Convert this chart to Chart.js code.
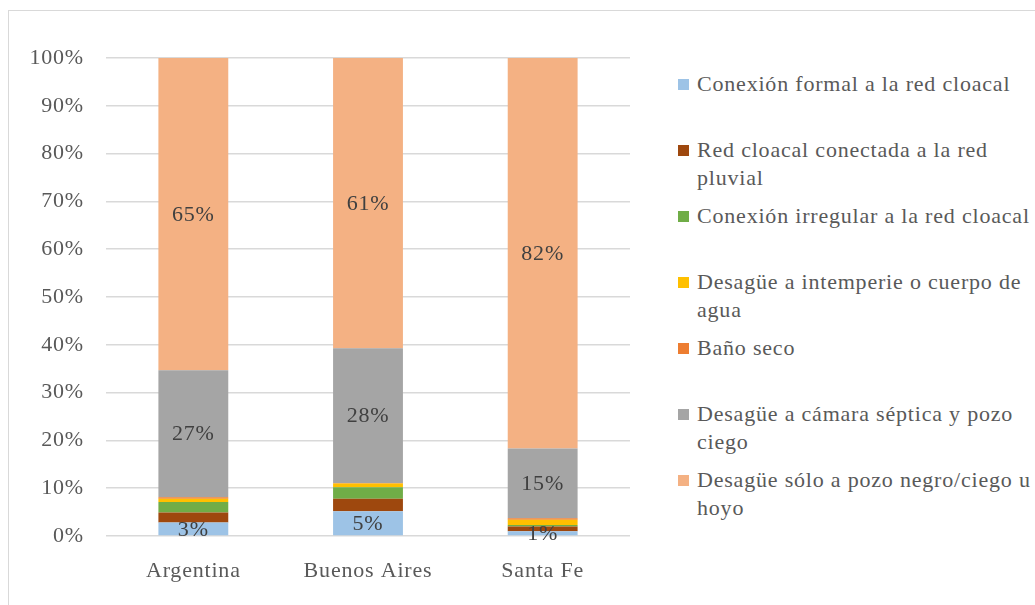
<!DOCTYPE html>
<html>
<head>
<meta charset="utf-8">
<script src="https://cdn.jsdelivr.net/npm/chart.js@4.4.0/dist/chart.umd.min.js"></script>
<style>
    body { margin: 0; background: #fff; width: 1035px; height: 605px; overflow: hidden; position: relative; }
    #frame { position: absolute; left: 8px; top: 10px; width: 1040px; height: 600px; border: 1px solid #d9d9d9; box-sizing: border-box; }
    #wrap { position: absolute; left: 0; top: 0; width: 650px; height: 605px; }
    #legend { position: absolute; left: 678px; top: 0; font-family: "Liberation Serif", "Times New Roman", serif; font-size: 22px; letter-spacing: 0.8px; color: #595959; }
    .item { position: absolute; left: 0; white-space: nowrap; line-height: 28px; }
    .box { position: absolute; left: 0; top: 9px; width: 11px; height: 11px; }
    .txt { position: absolute; left: 19px; top: 0; }
</style>
</head>
<body>
<div id="frame"></div>
<div id="wrap"><canvas id="chart" width="650" height="605"></canvas></div>
<div id="legend"></div>
<script>
// Categorías y series (porcentajes)
const categories = ['Argentina', 'Buenos Aires', 'Santa Fe'];
const seriesNames = [
    ['Conexión formal a la red cloacal'],
    ['Red cloacal conectada a la red', 'pluvial'],
    ['Conexión irregular a la red cloacal'],
    ['Desagüe a intemperie o cuerpo de', 'agua'],
    ['Baño seco'],
    ['Desagüe a cámara séptica y pozo', 'ciego'],
    ['Desagüe sólo a pozo negro/ciego u', 'hoyo']
];
const formal = [2.8, 5.2, 1.0];
const pluvial = [2.1, 2.6, 1.0];
const irregular = [2.2, 2.4, 0.3];
const intemperie = [0.7, 0.8, 1.1];
const banoSeco = [0.3, 0.1, 0.3];
const septica = [26.6, 28.2, 14.6];
const pozoNegro = [65.3, 60.7, 81.7];
const yTicks = [0, 10, 20, 30, 40, 50, 60, 70, 80, 90, 100];

const seriesValues = [formal, pluvial, irregular, intemperie, banoSeco, septica, pozoNegro];
const colors = ['#9dc3e6', '#9e480e', '#70ad47', '#ffc000', '#ed7d31', '#a5a5a5', '#f4b183'];
const showLabel = [true, false, false, false, false, true, true];

const datasets = seriesValues.map((vals, i) => ({
    label: seriesNames[i].join(' '),
    data: vals,
    backgroundColor: colors[i],
    borderWidth: 0,
    barPercentage: 0.4,
    categoryPercentage: 1
}));

// Espaciado de letras como en el original
const spacing = {
    id: 'spacing',
    beforeDraw(chart) { chart.ctx.letterSpacing = '0.8px'; }
};

// Etiquetas de porcentaje dentro de las barras
const barLabels = {
    id: 'barLabels',
    afterDatasetsDraw(chart) {
        const ctx = chart.ctx;
        ctx.save();
        ctx.letterSpacing = '0.8px';
        ctx.font = '22px "Liberation Serif", serif';
        ctx.fillStyle = '#404040';
        ctx.textAlign = 'center';
        ctx.textBaseline = 'middle';
        chart.data.datasets.forEach((ds, i) => {
            if (!showLabel[i]) return;
            chart.getDatasetMeta(i).data.forEach((bar, j) => {
                const mid = (bar.y + bar.base) / 2;
                ctx.fillText(Math.round(ds.data[j]) + '%', bar.x, mid + 1);
            });
        });
        ctx.restore();
    }
};

const tickFont = { family: '"Liberation Serif", serif', size: 22 };

new Chart(document.getElementById('chart'), {
    type: 'bar',
    data: { labels: categories, datasets: datasets },
    options: {
        responsive: false,
        animation: false,
        layout: { padding: { left: 20, right: 20, top: 58, bottom: 0 } },
        plugins: { legend: { display: false }, tooltip: { enabled: false } },
        scales: {
            x: {
                stacked: true,
                grid: { display: false },
                border: { display: false },
                ticks: { color: '#595959', font: tickFont, padding: 14 },
                afterFit: (s) => { s.height = 69; }
            },
            y: {
                stacked: true,
                min: 0,
                max: 100,
                afterBuildTicks: (s) => { s.ticks = yTicks.map(v => ({ value: v })); },
                grid: { color: '#d9d9d9', lineWidth: 1.5, drawTicks: false },
                border: { display: false },
                ticks: { color: '#595959', font: tickFont, padding: 22, callback: v => v + '%' },
                afterFit: (s) => { s.width = 86; }
            }
        }
    },
    plugins: [spacing, barLabels]
});

// Leyenda a la derecha
const legend = document.getElementById('legend');
seriesNames.forEach((lines, i) => {
    const item = document.createElement('div');
    item.className = 'item';
    item.style.top = (70 + 66 * i) + 'px';
    item.innerHTML = '<div class="box" style="background:' + colors[i] + '"></div>' +
        '<div class="txt">' + lines.join('<br>') + '</div>';
    legend.appendChild(item);
});
</script>
</body>
</html>
